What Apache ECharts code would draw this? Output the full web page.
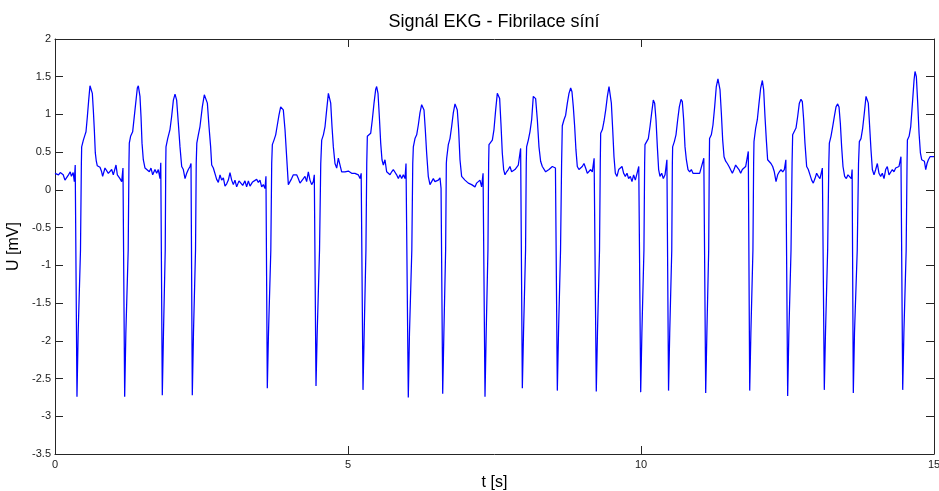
<!DOCTYPE html>
<html lang="cs">
<head>
<meta charset="utf-8">
<title>Signál EKG - Fibrilace síní</title>
<script src="https://cdn.jsdelivr.net/npm/echarts@6/dist/echarts.min.js"></script>
<style>
  html, body { margin: 0; padding: 0; background: #ffffff; }
  #chart { width: 939px; height: 491px; }
</style>
</head>
<body>
<div id="chart"></div>
<script>
// ECG recording, atrial fibrillation: [time (s), voltage (mV)] samples in 3-second blocks
const ecg0to3 = [
  [0.000, 0.22], [0.030, 0.21], [0.060, 0.20], [0.090, 0.23], [0.110, 0.24], [0.140, 0.20],
  [0.170, 0.13], [0.200, 0.11], [0.230, 0.20], [0.260, 0.24], [0.280, 0.18], [0.310, 0.23],
  [0.330, 0.11], [0.345, 0.33],
  [0.375, -2.74], [0.395, -1.90], [0.435, -0.80], [0.450, 0.35], [0.455, 0.57], [0.484, 0.66],
  [0.512, 0.73], [0.529, 0.77], [0.552, 0.97], [0.575, 1.19], [0.597, 1.38], [0.614, 1.39],
  [0.637, 1.28], [0.654, 1.06], [0.671, 0.80], [0.688, 0.49], [0.705, 0.38], [0.722, 0.32],
  [0.740, 0.31], [0.768, 0.30], [0.796, 0.24], [0.813, 0.18], [0.853, 0.29], [0.882, 0.31],
  [0.910, 0.22], [0.939, 0.20], [0.967, 0.27], [0.995, 0.20], [1.041, 0.33], [1.064, 0.20],
  [1.109, 0.15], [1.138, 0.11], [1.160, 0.29],
  [1.189, -2.74], [1.209, -1.90], [1.249, -0.80], [1.262, 0.35], [1.268, 0.62], [1.290, 0.71],
  [1.325, 0.77], [1.365, 1.06], [1.405, 1.35], [1.422, 1.38], [1.450, 1.24], [1.468, 0.97],
  [1.485, 0.62], [1.507, 0.40], [1.536, 0.29], [1.564, 0.31], [1.610, 0.24], [1.638, 0.29],
  [1.667, 0.20], [1.706, 0.27], [1.735, 0.22], [1.763, 0.27], [1.792, 0.15], [1.805, 0.36],
  [1.831, -2.72], [1.851, -1.90], [1.881, -0.80], [1.890, 0.35], [1.894, 0.57], [1.923, 0.68],
  [1.962, 0.80], [1.990, 0.97], [2.020, 1.19], [2.048, 1.27], [2.076, 1.19], [2.105, 0.88],
  [2.133, 0.57], [2.162, 0.31], [2.190, 0.27], [2.219, 0.15], [2.247, 0.22], [2.275, 0.27],
  [2.304, 0.31], [2.321, 0.35],
  [2.343, -2.72], [2.363, -1.90], [2.398, -0.80], [2.410, 0.35], [2.420, 0.62], [2.446, 0.73],
  [2.474, 0.84], [2.514, 1.10], [2.548, 1.26], [2.571, 1.28], [2.600, 1.15], [2.628, 0.84],
  [2.656, 0.57], [2.674, 0.33], [2.702, 0.29], [2.730, 0.27], [2.759, 0.14], [2.787, 0.10],
  [2.816, 0.20], [2.844, 0.13], [2.873, 0.16], [2.901, 0.05], [2.930, 0.08], [2.958, 0.13],
  [2.986, 0.23]
];

const ecg3to6 = [
  [3.015, 0.13], [3.043, 0.07], [3.071, 0.13], [3.100, 0.04], [3.140, 0.12], [3.168, 0.14],
  [3.203, 0.06], [3.242, 0.12], [3.270, 0.04], [3.300, 0.12], [3.328, 0.05], [3.367, 0.10],
  [3.402, 0.12], [3.441, 0.14], [3.470, 0.10], [3.498, 0.13], [3.527, 0.04], [3.555, 0.07],
  [3.584, 0.02], [3.600, 0.18],
  [3.623, -2.63], [3.643, -1.90], [3.683, -0.80], [3.698, 0.35], [3.709, 0.60], [3.737, 0.66],
  [3.766, 0.73], [3.794, 0.86], [3.822, 0.99], [3.851, 1.10], [3.874, 1.11], [3.896, 1.06],
  [3.925, 0.80], [3.953, 0.44], [3.982, 0.07], [4.010, 0.09], [4.038, 0.15], [4.067, 0.20],
  [4.095, 0.18], [4.124, 0.20], [4.152, 0.15], [4.181, 0.09], [4.209, 0.11], [4.238, 0.15],
  [4.266, 0.18], [4.294, 0.11], [4.323, 0.24], [4.351, 0.13], [4.380, 0.07], [4.408, 0.11],
  [4.425, 0.20],
  [4.454, -2.60], [4.474, -1.90], [4.514, -0.80], [4.535, 0.35], [4.551, 0.66], [4.580, 0.73],
  [4.608, 0.84], [4.636, 1.06], [4.665, 1.28], [4.682, 1.30], [4.705, 1.15], [4.727, 0.84],
  [4.750, 0.57], [4.778, 0.35], [4.807, 0.29], [4.835, 0.42], [4.864, 0.40], [4.892, 0.24],
  [4.920, 0.22], [4.949, 0.24], [4.977, 0.23], [5.005, 0.25], [5.034, 0.27], [5.063, 0.22],
  [5.091, 0.20], [5.119, 0.22], [5.148, 0.22], [5.176, 0.20], [5.205, 0.15], [5.225, 0.22],
  [5.256, -2.65], [5.276, -1.90], [5.306, -0.80], [5.320, 0.35], [5.330, 0.71], [5.358, 0.73],
  [5.387, 0.75], [5.415, 0.93], [5.444, 1.15], [5.472, 1.33], [5.489, 1.37], [5.512, 1.28],
  [5.535, 0.97], [5.558, 0.62], [5.580, 0.40], [5.603, 0.33], [5.631, 0.40], [5.660, 0.24],
  [5.688, 0.22], [5.717, 0.20], [5.745, 0.24], [5.773, 0.27], [5.802, 0.29], [5.830, 0.20],
  [5.859, 0.15], [5.887, 0.20], [5.916, 0.15], [5.944, 0.20], [5.973, 0.15], [5.990, 0.35]
];

const ecg6to9 = [
  [6.029, -2.75], [6.049, -1.90], [6.089, -0.80], [6.105, 0.35], [6.115, 0.57], [6.143, 0.68],
  [6.172, 0.73], [6.200, 0.86], [6.228, 1.02], [6.257, 1.13], [6.274, 1.15], [6.297, 1.06],
  [6.319, 0.80], [6.342, 0.49], [6.370, 0.18], [6.399, 0.07], [6.427, 0.09], [6.456, 0.15],
  [6.484, 0.11], [6.513, 0.09], [6.541, 0.13], [6.570, 0.16], [6.588, 0.02],
  [6.616, -2.70], [6.636, -1.90], [6.666, -0.80], [6.678, 0.35], [6.684, 0.42], [6.712, 0.60],
  [6.740, 0.68], [6.769, 0.84], [6.797, 1.02], [6.826, 1.14], [6.843, 1.15], [6.865, 1.06],
  [6.888, 0.80], [6.911, 0.40], [6.939, 0.18], [6.968, 0.20], [6.996, 0.13], [7.024, 0.15],
  [7.053, 0.09], [7.081, 0.11], [7.110, 0.07], [7.138, 0.07], [7.167, 0.04], [7.195, 0.09],
  [7.223, 0.11], [7.252, 0.13], [7.280, 0.04], [7.305, 0.22],
  [7.338, -2.74], [7.358, -1.90], [7.388, -0.80], [7.400, 0.35], [7.406, 0.60], [7.434, 0.62],
  [7.463, 0.66], [7.491, 0.80], [7.520, 1.06], [7.548, 1.28], [7.565, 1.30], [7.588, 1.21],
  [7.610, 0.88], [7.633, 0.49], [7.656, 0.27], [7.679, 0.20], [7.707, 0.24], [7.735, 0.27],
  [7.764, 0.31], [7.792, 0.24], [7.820, 0.22], [7.849, 0.27], [7.877, 0.29], [7.906, 0.33],
  [7.923, 0.35], [7.946, 0.55],
  [7.975, -2.63], [7.995, -1.90], [8.030, -0.80], [8.042, 0.35], [8.048, 0.57], [8.077, 0.66],
  [8.105, 0.77], [8.134, 0.93], [8.162, 1.24], [8.179, 1.26], [8.202, 1.21], [8.231, 0.93],
  [8.259, 0.57], [8.287, 0.38], [8.316, 0.31], [8.344, 0.29], [8.373, 0.24], [8.401, 0.22],
  [8.430, 0.27], [8.458, 0.29], [8.487, 0.31], [8.515, 0.29], [8.540, 0.29],
  [8.572, -2.66], [8.592, -1.90], [8.627, -0.80], [8.645, 0.35], [8.657, 0.85], [8.686, 0.93],
  [8.714, 0.99], [8.743, 1.15], [8.771, 1.28], [8.800, 1.35], [8.822, 1.30], [8.845, 1.10],
  [8.868, 0.84], [8.890, 0.53], [8.913, 0.31], [8.941, 0.27], [8.970, 0.29], [8.998, 0.31]
];

const ecg9to12 = [
  [9.027, 0.35], [9.055, 0.29], [9.084, 0.22], [9.112, 0.20], [9.141, 0.27], [9.169, 0.24],
  [9.200, 0.42],
  [9.237, -2.67], [9.257, -1.90], [9.292, -0.80], [9.305, 0.35], [9.312, 0.75], [9.341, 0.80],
  [9.369, 0.91], [9.398, 1.06], [9.426, 1.24], [9.454, 1.37], [9.471, 1.36], [9.494, 1.15],
  [9.517, 0.80], [9.539, 0.44], [9.562, 0.22], [9.590, 0.18], [9.619, 0.27], [9.647, 0.29],
  [9.676, 0.31], [9.704, 0.22], [9.732, 0.18], [9.761, 0.22], [9.789, 0.15], [9.818, 0.18],
  [9.846, 0.11], [9.874, 0.20], [9.903, 0.13], [9.926, 0.20], [9.962, 0.31],
  [9.995, -2.68], [10.015, -1.90], [10.050, -0.80], [10.062, 0.35], [10.068, 0.60], [10.097, 0.62],
  [10.125, 0.68], [10.154, 0.84], [10.182, 1.02], [10.210, 1.19], [10.233, 1.15], [10.256, 0.93],
  [10.279, 0.57], [10.301, 0.27], [10.324, 0.18], [10.353, 0.22], [10.381, 0.15], [10.410, 0.20],
  [10.442, 0.40],
  [10.470, -2.66], [10.490, -1.90], [10.525, -0.80], [10.535, 0.35], [10.540, 0.57], [10.569, 0.64],
  [10.597, 0.73], [10.626, 0.93], [10.654, 1.10], [10.683, 1.20], [10.705, 1.17], [10.728, 0.93],
  [10.751, 0.57], [10.774, 0.40], [10.802, 0.27], [10.831, 0.24], [10.859, 0.27], [10.887, 0.22],
  [10.916, 0.20], [10.944, 0.22], [10.973, 0.20], [11.001, 0.22], [11.030, 0.24], [11.072, 0.42],
  [11.104, -2.69], [11.124, -1.90], [11.155, -0.80], [11.165, 0.35], [11.170, 0.68], [11.200, 0.73],
  [11.228, 0.86], [11.257, 1.10], [11.285, 1.37], [11.313, 1.47], [11.325, 1.46], [11.348, 1.33],
  [11.371, 1.02], [11.394, 0.66], [11.417, 0.44], [11.445, 0.38], [11.473, 0.35], [11.502, 0.31],
  [11.530, 0.33], [11.559, 0.22], [11.587, 0.27], [11.615, 0.33], [11.644, 0.33], [11.672, 0.27],
  [11.701, 0.22], [11.729, 0.27], [11.758, 0.29], [11.786, 0.31], [11.814, 0.33], [11.831, 0.51],
  [11.855, -2.66], [11.875, -1.90], [11.910, -0.80], [11.922, 0.35], [11.928, 0.64], [11.957, 0.82],
  [11.985, 0.93]
];

const ecg12to15 = [
  [12.014, 1.15], [12.042, 1.35], [12.071, 1.45], [12.093, 1.33], [12.116, 0.97], [12.139, 0.66],
  [12.161, 0.40], [12.190, 0.38], [12.218, 0.35], [12.247, 0.31], [12.275, 0.24], [12.304, 0.11],
  [12.332, 0.20], [12.361, 0.24], [12.389, 0.27], [12.418, 0.24], [12.446, 0.27], [12.472, 0.40],
  [12.503, -2.73], [12.523, -1.90], [12.560, -0.80], [12.578, 0.35], [12.588, 0.73], [12.617, 0.75],
  [12.645, 0.82], [12.673, 0.97], [12.702, 1.15], [12.730, 1.20], [12.753, 1.17], [12.776, 0.93],
  [12.798, 0.62], [12.827, 0.31], [12.855, 0.27], [12.884, 0.20], [12.912, 0.13], [12.940, 0.09],
  [12.969, 0.15], [12.997, 0.22], [13.026, 0.18], [13.054, 0.15], [13.095, 0.29],
  [13.128, -2.65], [13.148, -1.90], [13.185, -0.80], [13.205, 0.35], [13.214, 0.62], [13.242, 0.71],
  [13.271, 0.84], [13.299, 0.97], [13.328, 1.10], [13.356, 1.14], [13.379, 1.10], [13.402, 0.88],
  [13.424, 0.57], [13.447, 0.31], [13.475, 0.18], [13.504, 0.15], [13.532, 0.20], [13.561, 0.18],
  [13.589, 0.15], [13.603, 0.27],
  [13.623, -2.69], [13.643, -1.90], [13.690, -0.80], [13.712, 0.35], [13.726, 0.64], [13.754, 0.68],
  [13.783, 0.82], [13.811, 1.02], [13.840, 1.24], [13.857, 1.26], [13.879, 1.15], [13.902, 0.84],
  [13.925, 0.53], [13.948, 0.27], [13.976, 0.20], [14.005, 0.27], [14.033, 0.35], [14.061, 0.22],
  [14.090, 0.18], [14.118, 0.22], [14.147, 0.15], [14.175, 0.27], [14.203, 0.31], [14.232, 0.20],
  [14.260, 0.18], [14.289, 0.27], [14.317, 0.24], [14.346, 0.29], [14.374, 0.27], [14.402, 0.31],
  [14.436, 0.44],
  [14.466, -2.65], [14.486, -1.90], [14.525, -0.80], [14.540, 0.35], [14.546, 0.66], [14.575, 0.71],
  [14.603, 0.84], [14.632, 1.15], [14.660, 1.46], [14.676, 1.57], [14.699, 1.50], [14.722, 1.15],
  [14.745, 0.75], [14.768, 0.49], [14.790, 0.40], [14.813, 0.42], [14.836, 0.38], [14.859, 0.27],
  [14.881, 0.35], [14.904, 0.40], [14.932, 0.44], [14.961, 0.42], [15.000, 0.44]
];

// Axis ranges and tick steps
const timeTicks = [0, 5, 10, 15];
const voltageTicks = [-3.5, -3, -2.5, -2, -1.5, -1, -0.5, 0, 0.5, 1, 1.5, 2];

const titleText = 'Signál EKG - Fibrilace síní';
const xName = 't [s]';
const yName = 'U [mV]';

const ecgSamples = [].concat(ecg0to3, ecg3to6, ecg6to9, ecg9to12, ecg12to15);

const FONT = '"Liberation Sans", Arial, Helvetica, sans-serif';
const AXIS_COLOR = '#262626';

const frameLine = { show: true, onZero: false, lineStyle: { color: AXIS_COLOR, width: 1 } };
const innerTicks = { show: true, inside: true, length: 8, lineStyle: { color: AXIS_COLOR, width: 1 } };

const xBase = {
  type: 'value',
  min: timeTicks[0],
  max: timeTicks[timeTicks.length - 1],
  interval: timeTicks[1] - timeTicks[0],
  axisLine: frameLine,
  axisTick: innerTicks,
  splitLine: { show: false }
};
const yBase = {
  type: 'value',
  min: voltageTicks[0],
  max: voltageTicks[voltageTicks.length - 1],
  interval: voltageTicks[1] - voltageTicks[0],
  axisLine: frameLine,
  axisTick: innerTicks,
  splitLine: { show: false }
};

const chart = echarts.init(document.getElementById('chart'), null, { renderer: 'canvas' });

chart.setOption({
  animation: false,
  backgroundColor: '#ffffff',
  grid: { left: 55, right: 5, top: 39, bottom: 37, containLabel: false, outerBoundsMode: 'none' },
  graphic: [{
    type: 'text',
    x: 494,
    y: 22,
    silent: true,
    style: {
      text: titleText,
      font: '18px ' + FONT,
      fill: '#000000',
      align: 'center',
      verticalAlign: 'middle'
    }
  }],
  xAxis: [
    Object.assign({}, xBase, {
      position: 'bottom',
      name: xName,
      nameLocation: 'middle',
      nameGap: 19,
      nameTextStyle: { fontFamily: FONT, fontSize: 16, color: '#000000' },
      axisLabel: { show: true, margin: 5, fontFamily: FONT, fontSize: 11, color: '#1a1a1a' }
    }),
    Object.assign({}, xBase, {
      position: 'top',
      axisLabel: { show: false }
    })
  ],
  yAxis: [
    Object.assign({}, yBase, {
      position: 'left',
      name: yName,
      nameLocation: 'middle',
      nameRotate: 90,
      nameGap: 27,
      nameTextStyle: { fontFamily: FONT, fontSize: 16, color: '#000000' },
      axisLabel: { show: true, margin: 4, fontFamily: FONT, fontSize: 11, color: '#1a1a1a' }
    }),
    Object.assign({}, yBase, {
      position: 'right',
      axisLabel: { show: false }
    })
  ],
  series: [{
    name: 'EKG',
    type: 'line',
    xAxisIndex: 0,
    yAxisIndex: 0,
    data: ecgSamples,
    showSymbol: false,
    symbol: 'none',
    smooth: false,
    silent: true,
    clip: true,
    lineStyle: { color: '#0000ff', width: 1.25 }
  }]
});
</script>
</body>
</html>
